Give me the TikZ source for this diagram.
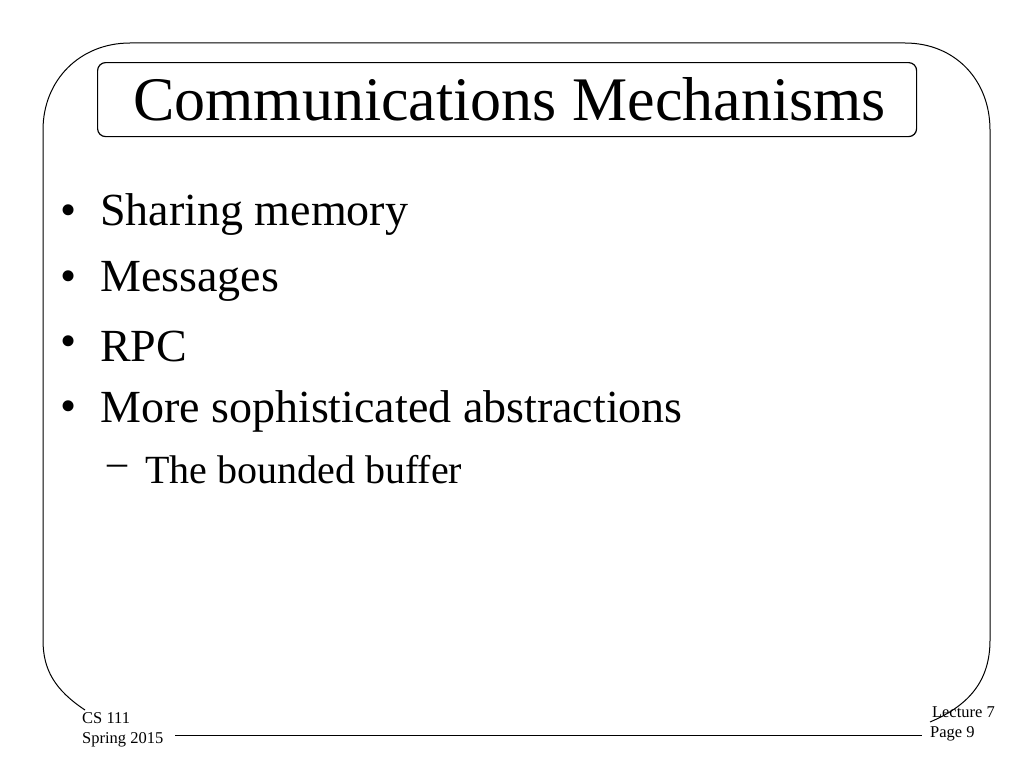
\documentclass[tikz,border=0pt]{standalone}
\usepackage{fontspec}
\setmainfont{Liberation Serif}
\begin{document}
\begin{tikzpicture}[x=1pt,y=-1pt,
  bul/.style={anchor=west,font=\fontsize{46}{50}\selectfont,inner sep=0},
  foot/.style={anchor=west,font=\fontsize{16.5}{18}\selectfont,inner sep=0}]
\useasboundingbox (0,0) rectangle (1024,768);
\draw[line width=1pt] (85,710) .. controls (55,690) and (43,670) .. (43,640)
  -- (43,130) .. controls (43,80) and (80,43) .. (130,43)
  -- (905,43) .. controls (955,43) and (990,80) .. (990,130)
  -- (990,640) .. controls (990,680) and (970,705) .. (930,722);
\draw[line width=1pt] (175,735) -- (922,735);
\node[draw,line width=1.2pt,rounded corners=8pt,minimum width=819pt,minimum height=74pt,anchor=north west,inner sep=0] (title) at (97,62) {};
\node[font=\fontsize{62}{66}\selectfont,inner sep=0,anchor=west] (tt) at (133,99) {Communications Mechanisms};
\node[bul] (b0) at (60,215) {•};
\node[bul] (b1) at (100,215) {Sharing memory};
\node[bul] (b2a) at (60,281) {•};
\node[bul] (b2) at (100,281) {Messages};
\node[bul] (b3a) at (60,346) {•};
\node[bul] (b3) at (100,346) {RPC};
\node[bul] (b4a) at (60,411) {•};
\node[bul] (b4) at (100,411) {More sophisticated abstractions};
\node[anchor=west,inner sep=0,font=\fontsize{40}{44}\selectfont] (s0) at (107,470) {–};
\node[anchor=west,inner sep=0,font=\fontsize{40}{44}\selectfont] (s1) at (145,470) {The bounded buffer};
\node[foot] (f1) at (82,718) {CS 111};
\node[foot] (f2) at (82,740) {Spring 2015};
\node[foot,anchor=east] (f3) at (995,712) {Lecture 7};
\node[foot] (f4) at (930,734) {Page 9};
\end{tikzpicture}
\end{document}
